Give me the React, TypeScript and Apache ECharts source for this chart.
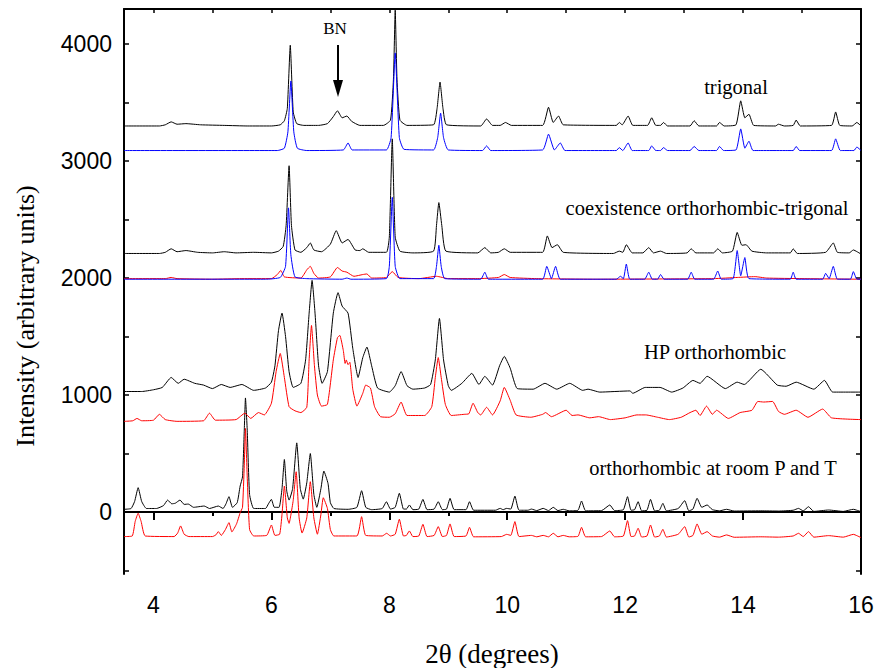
import React, { useEffect, useRef } from "react";
import * as echarts from "echarts";

const trigonalBlack = [
  [3.5,3300],[4.1,3300],[4.2,3310],[4.3,3335],[4.4,3315],[4.55,3320],[4.8,3310],[5.2,3305],[5.6,3300],[6.0,3300],[6.15,3310],[6.22,3345],[6.27,3450],[6.32,3990],[6.37,3420],[6.43,3320],[6.55,3305],[6.8,3305],[6.95,3320],[7.05,3380],[7.12,3430],[7.2,3370],[7.28,3385],[7.36,3340],[7.5,3305],[7.9,3305],[8.02,3350],[8.07,3700],[8.1,4290],[8.13,3700],[8.18,3350],[8.3,3305],[8.75,3310],[8.81,3450],[8.86,3675],[8.91,3450],[8.97,3310],[9.55,3300],[9.65,3360],[9.75,3305],[9.88,3305],[9.97,3330],[10.07,3305],[10.6,3305],[10.7,3460],[10.78,3330],[10.87,3385],[10.95,3310],[11.85,3305],[11.9,3330],[11.95,3310],[12.05,3385],[12.13,3305],[12.38,3305],[12.45,3370],[12.52,3305],[12.6,3305],[12.65,3330],[12.72,3300],[13.1,3300],[13.17,3345],[13.25,3300],[13.55,3300],[13.6,3330],[13.68,3300],[13.88,3310],[13.96,3515],[14.03,3370],[14.1,3400],[14.18,3305],[14.55,3300],[14.6,3315],[14.7,3300],[14.85,3305],[14.9,3350],[14.97,3300],[15.5,3305],[15.57,3420],[15.64,3305],[15.85,3300],[15.93,3330],[16,3300]
];

const trigonalBlue = [
  [3.5,3090],[6.1,3090],[6.22,3110],[6.28,3250],[6.33,3685],[6.38,3250],[6.44,3110],[6.6,3090],[7.22,3095],[7.3,3155],[7.37,3095],[7.95,3095],[8.03,3200],[8.1,3925],[8.17,3200],[8.25,3100],[8.75,3095],[8.82,3200],[8.87,3410],[8.92,3200],[9.0,3095],[9.58,3090],[9.65,3130],[9.72,3090],[10.6,3095],[10.7,3230],[10.8,3095],[10.9,3155],[10.98,3090],[11.85,3090],[11.9,3115],[11.96,3090],[12.05,3155],[12.12,3090],[12.4,3090],[12.45,3130],[12.52,3090],[12.6,3090],[12.65,3115],[12.72,3090],[13.1,3090],[13.17,3125],[13.25,3090],[13.55,3090],[13.6,3125],[13.67,3090],[13.88,3095],[13.96,3275],[14.03,3110],[14.1,3170],[14.17,3090],[14.85,3090],[14.9,3125],[14.96,3090],[15.5,3090],[15.57,3190],[15.65,3090],[15.88,3090],[15.93,3120],[16,3090]
];

const coexBlack = [
  [3.5,2210],[4.1,2210],[4.2,2220],[4.3,2250],[4.4,2225],[4.55,2235],[4.75,2220],[5.0,2215],[5.2,2225],[5.4,2215],[5.7,2220],[6.0,2215],[6.12,2230],[6.2,2270],[6.25,2450],[6.3,2960],[6.34,2450],[6.4,2240],[6.5,2220],[6.6,2260],[6.66,2300],[6.72,2240],[6.85,2225],[7.0,2290],[7.1,2405],[7.2,2300],[7.3,2330],[7.42,2240],[7.5,2235],[7.55,2250],[7.65,2220],[7.95,2220],[8.0,2350],[8.05,3190],[8.1,2350],[8.18,2230],[8.4,2215],[8.75,2230],[8.8,2450],[8.84,2645],[8.89,2450],[8.96,2230],[9.5,2215],[9.62,2260],[9.72,2215],[9.85,2220],[9.95,2250],[10.05,2220],[10.6,2220],[10.68,2360],[10.76,2260],[10.85,2285],[10.95,2220],[11.8,2210],[11.9,2230],[11.96,2220],[12.02,2285],[12.12,2215],[12.3,2215],[12.4,2260],[12.48,2215],[12.6,2230],[12.7,2210],[13.05,2215],[13.12,2250],[13.2,2215],[13.5,2215],[13.57,2250],[13.65,2215],[13.82,2230],[13.9,2390],[13.98,2280],[14.05,2285],[14.15,2230],[14.4,2215],[14.8,2215],[14.85,2250],[14.92,2210],[15.4,2220],[15.53,2300],[15.6,2220],[15.8,2215],[15.87,2240],[16,2205]
];

const coexBlue = [
  [3.5,1990],[5.9,1990],[6.15,2005],[6.24,2100],[6.29,2600],[6.33,2200],[6.4,2010],[6.6,1995],[7.2,1990],[7.28,2000],[7.35,1990],[7.95,1995],[8.0,2100],[8.05,2690],[8.1,2100],[8.18,1995],[8.75,1995],[8.8,2100],[8.84,2280],[8.88,2100],[8.94,1995],[9.55,1990],[9.62,2050],[9.68,1990],[10.6,1990],[10.67,2100],[10.75,1995],[10.82,2100],[10.9,1990],[11.85,1990],[11.92,2015],[11.97,1995],[12.02,2120],[12.08,1990],[12.33,1990],[12.4,2050],[12.46,1990],[12.55,1990],[12.6,2030],[12.66,1990],[13.06,1990],[13.12,2050],[13.18,1990],[13.5,1990],[13.57,2060],[13.63,1990],[13.83,1995],[13.9,2235],[13.96,2020],[14.03,2175],[14.1,1995],[14.8,1990],[14.85,2050],[14.9,1990],[15.35,1990],[15.4,2040],[15.46,1995],[15.53,2100],[15.6,1990],[15.82,1990],[15.87,2055],[15.93,1990],[16,1990]
];

const coexRed = [
  [3.5,1995],[4.2,1995],[4.3,2005],[4.4,1995],[5.0,1990],[5.5,1995],[6.0,1995],[6.1,2030],[6.16,2065],[6.22,2010],[6.5,2000],[6.6,2070],[6.66,2100],[6.72,2040],[6.8,2000],[7.0,2010],[7.12,2090],[7.2,2060],[7.28,2050],[7.4,2015],[7.55,2030],[7.62,2035],[7.7,2000],[7.95,2005],[8.05,2055],[8.15,2005],[8.5,1995],[8.8,2015],[9.0,1995],[9.5,1995],[9.85,2005],[9.95,2030],[10.05,2005],[10.5,1995],[11.5,1990],[12.5,1992],[13.5,1995],[13.9,2005],[14.2,2012],[14.4,2000],[15.0,1995],[16,1990]
];

const hpBlack = [
  [3.5,1030],[3.8,1030],[4.0,1045],[4.15,1065],[4.3,1150],[4.42,1100],[4.52,1135],[4.7,1100],[4.85,1085],[5.0,1055],[5.15,1090],[5.3,1065],[5.5,1090],[5.7,1040],[5.9,1060],[6.0,1110],[6.06,1250],[6.12,1550],[6.18,1700],[6.24,1500],[6.3,1200],[6.37,1065],[6.5,1100],[6.58,1300],[6.64,1700],[6.69,1980],[6.74,1700],[6.8,1250],[6.86,1100],[6.95,1200],[7.05,1700],[7.13,1875],[7.2,1760],[7.3,1700],[7.38,1400],[7.47,1150],[7.55,1320],[7.62,1410],[7.7,1250],[7.8,1060],[8.0,1025],[8.1,1080],[8.2,1200],[8.3,1080],[8.4,1050],[8.6,1060],[8.7,1090],[8.78,1300],[8.85,1655],[8.92,1300],[9.0,1080],[9.05,1040],[9.23,1100],[9.4,1185],[9.52,1090],[9.62,1160],[9.75,1085],[9.87,1250],[9.95,1330],[10.05,1230],[10.17,1055],[10.44,1050],[10.64,1100],[10.84,1050],[11.06,1100],[11.28,1040],[11.37,1050],[11.57,1025],[12.08,1035],[12.13,1015],[12.34,1065],[12.59,1065],[12.79,1025],[12.98,1060],[13.15,1125],[13.27,1100],[13.39,1160],[13.7,1055],[13.9,1110],[14.02,1090],[14.3,1220],[14.58,1085],[14.73,1075],[14.9,1110],[15.2,1050],[15.38,1125],[15.52,1025],[16,1025]
];

const hpRed = [
  [3.5,775],[3.65,780],[3.72,800],[3.8,780],[4.0,785],[4.1,835],[4.2,790],[4.4,775],[4.85,780],[4.95,845],[5.05,785],[5.4,790],[5.55,845],[5.65,800],[5.78,850],[5.88,830],[6.0,930],[6.08,1200],[6.15,1355],[6.22,1150],[6.3,900],[6.4,865],[6.5,850],[6.6,895],[6.64,1300],[6.68,1595],[6.73,1250],[6.78,1000],[6.85,905],[6.95,920],[7.05,1300],[7.12,1490],[7.16,1510],[7.22,1380],[7.25,1270],[7.27,1300],[7.3,1260],[7.33,1280],[7.38,1050],[7.45,905],[7.55,1015],[7.6,1085],[7.68,1060],[7.75,900],[7.85,815],[8.0,810],[8.1,840],[8.2,940],[8.3,825],[8.6,825],[8.72,900],[8.78,1150],[8.83,1320],[8.88,1150],[8.95,920],[9.05,825],[9.27,835],[9.35,840],[9.42,930],[9.5,850],[9.55,830],[9.65,895],[9.75,830],[9.88,950],[9.95,1065],[10.05,955],[10.15,830],[10.4,810],[10.6,835],[10.65,850],[10.75,815],[11.0,870],[11.1,825],[11.2,830],[11.4,805],[11.55,815],[11.75,790],[12.0,805],[12.2,830],[12.35,830],[12.55,810],[12.75,790],[12.95,810],[13.1,850],[13.2,870],[13.27,825],[13.38,905],[13.48,835],[13.55,870],[13.75,800],[13.95,850],[14.15,870],[14.25,945],[14.35,940],[14.5,945],[14.6,860],[14.7,835],[14.9,870],[15.1,810],[15.35,880],[15.5,805],[16,790]
];

const roomBlack = [
  [3.5,23],[3.62,30],[3.68,90],[3.74,208],[3.8,90],[3.88,30],[4.05,30],[4.17,55],[4.24,102],[4.31,70],[4.37,75],[4.45,102],[4.52,65],[4.59,68],[4.68,40],[4.86,51],[4.95,30],[5.1,51],[5.18,30],[5.23,70],[5.28,131],[5.34,40],[5.42,80],[5.47,222],[5.51,300],[5.54,700],[5.56,975],[5.59,700],[5.63,150],[5.7,30],[5.9,30],[5.95,70],[6.0,108],[6.05,40],[6.13,40],[6.18,200],[6.22,449],[6.26,180],[6.3,102],[6.36,200],[6.43,591],[6.49,200],[6.54,110],[6.6,250],[6.66,500],[6.72,150],[6.77,40],[6.84,200],[6.89,350],[6.96,245],[7.0,80],[7.06,30],[7.3,23],[7.45,40],[7.53,182],[7.6,40],[7.7,20],[7.88,30],[7.95,88],[8.02,25],[8.1,40],[8.17,160],[8.24,25],[8.29,25],[8.34,60],[8.4,20],[8.5,25],[8.57,108],[8.64,20],[8.76,25],[8.83,88],[8.9,20],[8.97,25],[9.03,117],[9.1,20],[9.3,20],[9.36,88],[9.43,15],[9.8,15],[9.88,31],[9.93,20],[9.99,31],[10.06,25],[10.13,136],[10.2,15],[10.35,15],[10.41,25],[10.5,12],[10.61,31],[10.7,12],[10.78,40],[10.86,12],[10.95,23],[11.05,10],[11.2,15],[11.26,94],[11.33,10],[11.6,12],[11.74,60],[11.82,12],[11.97,20],[12.04,131],[12.1,15],[12.16,20],[12.22,88],[12.28,10],[12.37,15],[12.43,108],[12.5,10],[12.58,15],[12.64,74],[12.7,10],[12.9,30],[13.01,97],[13.08,10],[13.15,25],[13.22,117],[13.3,40],[13.39,60],[13.48,20],[13.6,10],[13.72,23],[13.85,8],[14.3,10],[14.6,8],[14.85,15],[14.94,31],[15.02,10],[15.11,45],[15.2,5],[15.45,17],[15.7,5],[15.87,23],[16,3]
];

const roomRed = [
  [3.5,-210],[3.64,-205],[3.69,-80],[3.74,-11],[3.79,-80],[3.86,-205],[4.35,-210],[4.41,-180],[4.46,-119],[4.52,-190],[4.6,-210],[5.0,-210],[5.06,-195],[5.1,-168],[5.15,-200],[5.22,-150],[5.28,-91],[5.33,-170],[5.41,-100],[5.47,-6],[5.51,40],[5.54,400],[5.56,714],[5.59,300],[5.63,-150],[5.7,-205],[5.92,-200],[6.0,-111],[6.06,-200],[6.14,-190],[6.18,-20],[6.22,222],[6.27,-50],[6.3,-97],[6.33,-26],[6.37,100],[6.42,344],[6.47,-50],[6.52,-180],[6.6,-50],[6.66,259],[6.72,-50],[6.78,-190],[6.84,-20],[6.88,122],[6.95,31],[7.0,-150],[7.06,-205],[7.45,-205],[7.53,-40],[7.6,-200],[7.88,-205],[7.955,-182],[8.02,-205],[8.1,-190],[8.17,-62],[8.24,-205],[8.29,-200],[8.34,-162],[8.4,-210],[8.5,-205],[8.57,-105],[8.64,-210],[8.76,-200],[8.83,-125],[8.9,-210],[8.97,-200],[9.03,-102],[9.1,-210],[9.3,-205],[9.36,-131],[9.43,-212],[9.9,-210],[9.99,-191],[10.06,-200],[10.13,-82],[10.2,-210],[10.41,-200],[10.5,-212],[10.61,-200],[10.7,-212],[10.78,-182],[10.86,-212],[10.95,-200],[11.05,-212],[11.2,-208],[11.26,-131],[11.33,-212],[11.6,-210],[11.74,-162],[11.82,-212],[11.97,-205],[12.04,-74],[12.1,-210],[12.16,-205],[12.22,-139],[12.28,-214],[12.37,-205],[12.43,-111],[12.5,-214],[12.58,-205],[12.64,-148],[12.7,-214],[12.9,-190],[13.01,-125],[13.08,-214],[13.15,-200],[13.22,-102],[13.3,-190],[13.39,-168],[13.48,-205],[13.6,-215],[13.72,-196],[13.85,-216],[14.3,-212],[14.6,-215],[14.85,-205],[14.94,-182],[15.02,-210],[15.11,-168],[15.2,-215],[15.45,-202],[15.7,-215],[15.87,-191],[16,-219]
];

const xMajorTicks = [4, 6, 8, 10, 12, 14, 16];
const xMinorTicks = [5, 7, 9, 11, 13, 15];
const xAllTicks = [4, 5, 6, 7, 8, 9, 10, 11, 12, 13, 14, 15, 16];
const yTickLabels = [0, 1000, 2000, 3000, 4000];
const yTicks = [-500, 0, 500, 1000, 1500, 2000, 2500, 3000, 3500, 4000];

const annotations = [
  { text: "trigonal", x: 736, y: 87 },
  { text: "coexistence orthorhombic-trigonal", x: 707, y: 208 },
  { text: "HP orthorhombic", x: 715, y: 352 },
  { text: "orthorhombic at room P and T", x: 713, y: 468 },
];

const SERIF = '"Liberation Serif", "Times New Roman", serif';
const SANS = '"Liberation Sans", Arial, sans-serif';

export default function App() {
  const ref = useRef<HTMLDivElement>(null);
  useEffect(() => {
    document.body.style.margin = "0";
    const chart = echarts.init(ref.current!, null, { renderer: "svg" });
    const line = (data: number[][], color: string) => ({
      type: "line",
      data,
      showSymbol: false,
      smooth: 0.15,
      lineStyle: { color, width: 1 },
      itemStyle: { color },
      silent: true,
      clip: true,
    });
    const axisLine = { show: true, lineStyle: { color: "#000", width: 2 } };
    chart.setOption({
      animation: false,
      backgroundColor: "#fff",
      grid: { left: 124, right: 16, top: 9, bottom: 94 },
      xAxis: [
        {
          type: "value", min: 3.5, max: 16, position: "bottom",
          axisLine,
          axisTick: { show: true, inside: false, length: 8, customValues: xMajorTicks, lineStyle: { color: "#000", width: 2 } },
          axisLabel: { customValues: xMajorTicks, margin: 19, fontSize: 23, fontFamily: SANS, color: "#000", formatter: (v: number) => String(v) },
          splitLine: { show: false },
        },
        {
          type: "value", min: 3.5, max: 16, position: "bottom",
          axisLine: { show: false },
          axisTick: { show: true, inside: false, length: 4, customValues: xMinorTicks, lineStyle: { color: "#000", width: 2 } },
          axisLabel: { show: false },
          splitLine: { show: false },
        },
        {
          type: "value", min: 3.5, max: 16, position: "top",
          axisLine,
          axisTick: { show: true, inside: true, length: 4, customValues: xAllTicks, lineStyle: { color: "#000", width: 1.5 } },
          axisLabel: { show: false },
          splitLine: { show: false },
        },
      ],
      yAxis: [
        {
          type: "value", min: -530, max: 4300, position: "left",
          axisLine,
          axisTick: { show: true, inside: true, length: 5, customValues: yTicks, lineStyle: { color: "#000", width: 1.5 } },
          axisLabel: { customValues: yTickLabels, margin: 12, fontSize: 23, fontFamily: SANS, color: "#000", formatter: (v: number) => String(v) },
          splitLine: { show: false },
        },
        {
          type: "value", min: -530, max: 4300, position: "right",
          axisLine,
          axisTick: { show: true, inside: true, length: 5, customValues: yTicks, lineStyle: { color: "#000", width: 1.5 } },
          axisLabel: { show: false },
          splitLine: { show: false },
        },
      ],
      series: [
        line(trigonalBlack, "#000000"),
        line(coexBlack, "#000000"),
        line(hpBlack, "#000000"),
        line(roomBlack, "#000000"),
        line(coexRed, "#ff0000"),
        line(hpRed, "#ff0000"),
        line(roomRed, "#ff0000"),
        line(trigonalBlue, "#0000ff"),
        line(coexBlue, "#0000ff"),
      ],
      graphic: [
        ...annotations.map((a) => ({
          type: "text", x: a.x, y: a.y, silent: true,
          style: { text: a.text, font: `20.5px ${SERIF}`, fill: "#000", textAlign: "center", textVerticalAlign: "middle" },
        })),
        {
          type: "text", x: 335, y: 28, silent: true,
          style: { text: "BN", font: `17px ${SERIF}`, fill: "#000", textAlign: "center", textVerticalAlign: "middle" },
        },
        { type: "line", silent: true, shape: { x1: 338, y1: 45, x2: 338, y2: 84 }, style: { stroke: "#000", lineWidth: 2 } },
        { type: "polygon", silent: true, shape: { points: [[333, 80], [343, 80], [338, 97]] }, style: { fill: "#000" } },
        {
          type: "text", x: 25, y: 316, rotation: Math.PI / 2, silent: true,
          style: { text: "Intensity (arbitrary units)", font: `26px ${SERIF}`, fill: "#000", textAlign: "center", textVerticalAlign: "middle" },
        },
        {
          type: "text", x: 492, y: 654, silent: true,
          style: { text: "2θ (degrees)", font: `27px ${SERIF}`, fill: "#000", textAlign: "center", textVerticalAlign: "middle" },
        },
      ],
    });
    return () => chart.dispose();
  }, []);
  return <div ref={ref} style={{ width: 877, height: 668 }} />;
}
